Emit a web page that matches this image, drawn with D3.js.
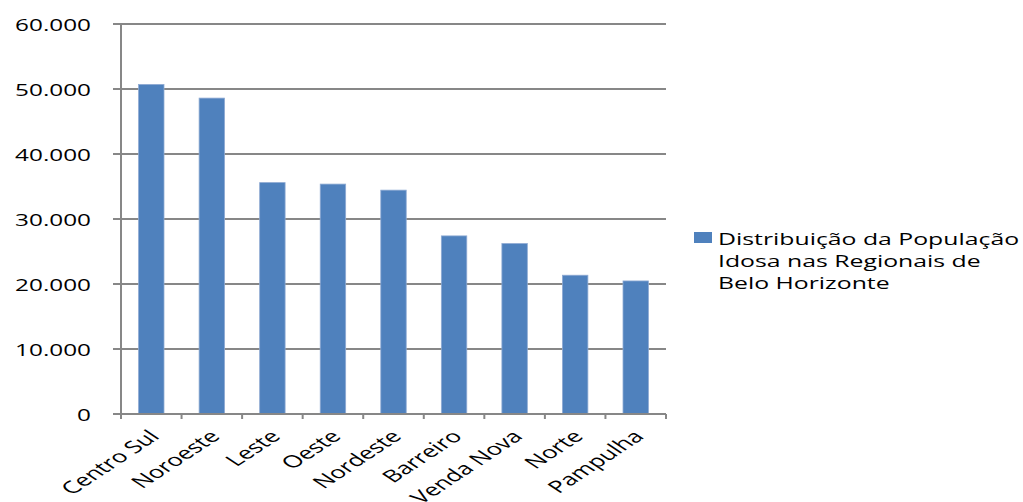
<!DOCTYPE html>
<html>
<head>
<meta charset="utf-8">
<script src="https://cdn.jsdelivr.net/npm/d3@7"></script>
<style>
  html, body { margin: 0; padding: 0; background: #fff; }
  svg text { font-family: "Open Sans", "DejaVu Sans", sans-serif; fill: #000; }
</style>
</head>
<body>
<svg id="chart" width="1023" height="502"></svg>
<script>
// Regional categories and elderly population counts
const regionais = ["Centro Sul", "Noroeste", "Leste", "Oeste", "Nordeste", "Barreiro", "Venda Nova", "Norte", "Pampulha"];
const populacaoIdosa = [50700, 48600, 35600, 35370, 34440, 27400, 26220, 21350, 20470];
const yTicks = [0, 10000, 20000, 30000, 40000, 50000, 60000];
const legendLines = ["Distribuição da População", "Idosa nas Regionais de", "Belo Horizonte"];

const svg = d3.select("#chart");
const stretch = 1.52;          // wide-set lettering
const plotLeft = 121, plotRight = 666, plotTop = 24, plotBottom = 414;
const gridColor = "#878787";
const barColor = "#4F81BD";

const ptBR = d3.formatLocale({ decimal: ",", thousands: ".", grouping: [3], currency: ["R$", ""] });
const fmt = ptBR.format(",d");

const x = d3.scaleBand().domain(regionais).range([plotLeft, plotRight]).padding(0);
const y = d3.scaleLinear().domain([0, 60000]).range([plotBottom, plotTop]);

// horizontal gridlines with left tick stubs
svg.append("g").selectAll("line").data(yTicks.filter(d => d > 0)).join("line")
  .attr("x1", plotLeft - 8).attr("x2", plotRight)
  .attr("y1", d => y(d)).attr("y2", d => y(d))
  .attr("stroke", gridColor).attr("stroke-width", 2);

// bars
const barW = x.bandwidth() * 0.42;
svg.append("g").selectAll("rect").data(regionais).join("rect")
  .attr("x", d => x(d) + x.bandwidth() / 2 - barW / 2)
  .attr("width", barW)
  .attr("y", (d, i) => y(populacaoIdosa[i]))
  .attr("height", (d, i) => y(0) - y(populacaoIdosa[i]))
  .attr("fill", barColor)
  .attr("stroke", "#8eaad3").attr("stroke-width", 0.8);

// y axis line
svg.append("line")
  .attr("x1", plotLeft).attr("x2", plotLeft).attr("y1", plotTop).attr("y2", plotBottom + 5)
  .attr("stroke", gridColor).attr("stroke-width", 2);

// x axis baseline + band boundary ticks
svg.append("line")
  .attr("x1", plotLeft - 8).attr("x2", plotRight).attr("y1", plotBottom).attr("y2", plotBottom)
  .attr("stroke", gridColor).attr("stroke-width", 2);
const bounds = regionais.map(d => x(d) + x.step());
svg.append("g").selectAll("line").data(bounds).join("line")
  .attr("x1", d => d).attr("x2", d => d).attr("y1", plotBottom).attr("y2", plotBottom + 5)
  .attr("stroke", gridColor).attr("stroke-width", 2);

// y tick labels
svg.append("g").selectAll("text").data(yTicks).join("text")
  .attr("transform", d => `translate(${plotLeft - 30},${y(d)}) scale(${stretch},1)`)
  .attr("text-anchor", "end")
  .attr("dy", "0.42em")
  .style("font-size", "16px")
  .text(d => fmt(d));

// x category labels, rotated
svg.append("g").selectAll("text").data(regionais).join("text")
  .attr("transform", d => `translate(${x(d) + x.bandwidth() / 2 - 2},${plotBottom + 16}) scale(${stretch},1) rotate(-45)`)
  .attr("text-anchor", "end")
  .attr("dy", "0.62em")
  .style("font-size", "17px")
  .text(d => d);

// legend
const lg = svg.append("g");
lg.append("rect").attr("x", 694).attr("y", 232).attr("width", 18).attr("height", 11).attr("fill", barColor);
lg.selectAll("text").data(legendLines).join("text")
  .attr("transform", (d, i) => `translate(718,${244.5 + i * 22}) scale(1.55,1)`)
  .style("font-size", "16px")
  .text(d => d);
</script>
</body>
</html>
